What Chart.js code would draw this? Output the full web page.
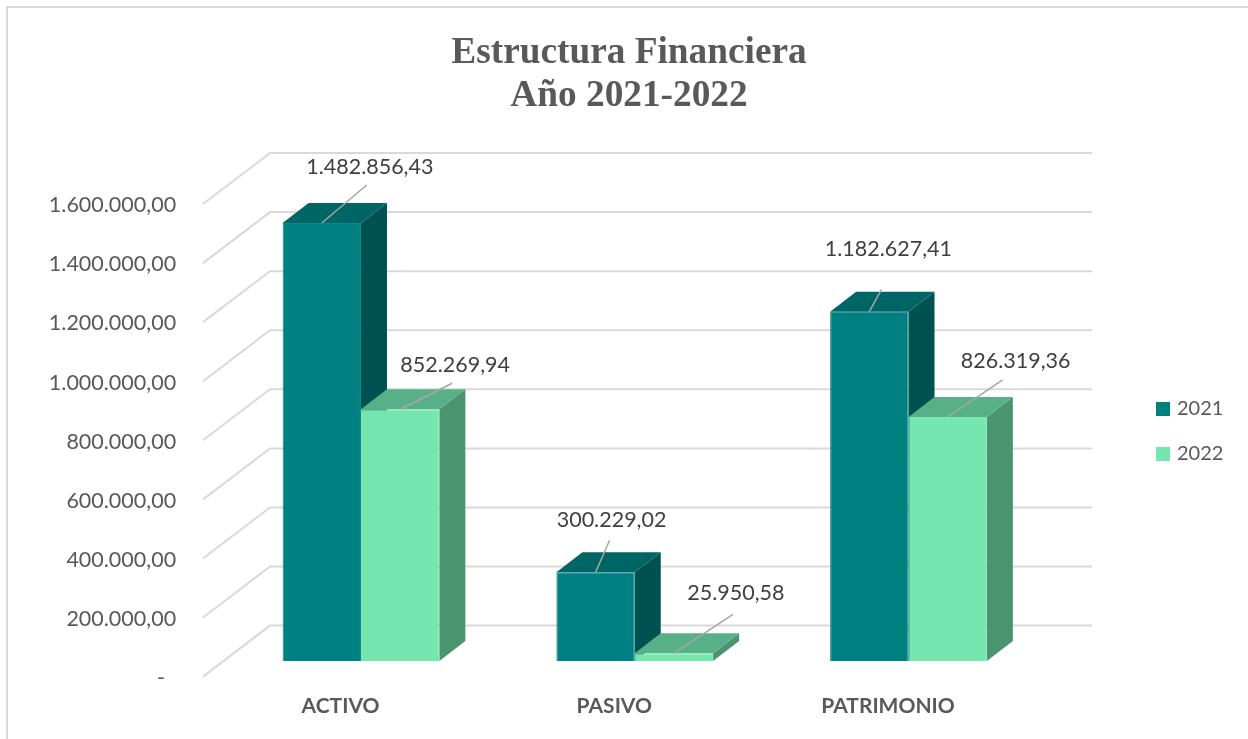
<!DOCTYPE html>
<html>
<head>
<meta charset="utf-8">
<style>html,body{margin:0;padding:0;background:#fff;overflow:hidden}canvas{display:block}</style>
<script src="https://cdn.jsdelivr.net/npm/chart.js@4/dist/chart.umd.min.js"></script>
</head>
<body>
<div style="width:1248px;height:739px;position:relative"><canvas id="c"></canvas></div>
<script>
const categories = ['ACTIVO', 'PASIVO', 'PATRIMONIO'];
const seriesNames = ['2021', '2022'];
const values2021 = [1482856.43, 300229.02, 1182627.41];
const values2022 = [852269.94, 25950.58, 826319.36];
const titleLines = ['Estructura Financiera', 'Año 2021-2022'];
const axisMax = 1600000;
const axisStep = 200000;

const frontColors = ['#008080', '#75E6B0'];
const edgeColors = ['#0C8787', '#78E8B3'];
const topColors = ['#006565', '#58B088'];
const sideColors = ['#005252', '#4A9570'];
// leader-line ends, relative to the bar's front-top centre: [series][category] = [dx, dy]
const leaderEnds = [[[45,-38],[14,-32],[12,-22]], [[52,-26],[59,-39],[55,-37]]];
// label centres, relative to the leader end
const labelGaps = [[[3,-18],[2,-20],[7,-41]], [[3,-18],[3,-21],[13,-19]]];

const DEPTH_X = 26, DEPTH_Y = 20;      // bar extrusion
const WALL_Y = 35.4;                   // back wall offset from the front plane
const SIDE_X = 67, SIDE_Y = 51;        // left wall run

function fmt(v){
  if (v === 0) return '-  ';
  const p = v.toFixed(2).split('.');
  return p[0].replace(/\B(?=(\d{3})+(?!\d))/g, '.') + ',' + p[1];
}

function poly(ctx, pts, color){
  ctx.beginPath();
  pts.forEach((p,i)=> i ? ctx.lineTo(p[0],p[1]) : ctx.moveTo(p[0],p[1]));
  ctx.closePath();
  ctx.fillStyle = color;
  ctx.fill();
}

const frame = {
  id:'frame',
  beforeLayout(chart){
    const l = chart.legend;
    if (!l._wrapped){
      l._wrapped = true;
      const f = l.fit;
      l.fit = function(){ f.call(this); this.width = 202.6; };
    }
  },
  afterLayout(chart){
    const l = chart.legend;
    const w = l.right - l.left;
    l.left = 1134; l.right = l.left + w;
    l.top += 62; l.bottom += 62;
    const t = chart.titleBlock;
    t.left += 5; t.right += 5;
  },
  beforeDraw(chart){
    const c = chart.ctx;
    c.save();
    c.fillStyle = '#fff';
    c.fillRect(0,0,chart.width,chart.height);
    c.strokeStyle = '#d9d9d9';
    c.lineWidth = 2;
    c.beginPath();
    c.moveTo(7,739); c.lineTo(7,7); c.lineTo(1248,7);
    c.stroke();
    c.restore();
  },
  beforeDatasetsDraw(chart){
    const c = chart.ctx, y = chart.scales.y;
    c.save();
    c.strokeStyle = '#d9d9d9';
    c.lineWidth = 2;
    c.beginPath();
    y.ticks.forEach(t=>{
      const py = y.getPixelForValue(t.value) - WALL_Y;
      c.moveTo(270 - SIDE_X, py + SIDE_Y);
      c.lineTo(270, py);
      c.lineTo(1092, py);
    });
    c.stroke();
    chart.data.datasets.forEach((ds,i)=>{
      chart.getDatasetMeta(i).data.forEach(b=>{
        const L = b.x - b.width/2, R = b.x + b.width/2, T = b.y, B = b.base;
        poly(c, [[R,T],[R+DEPTH_X,T-DEPTH_Y],[R+DEPTH_X,B-DEPTH_Y],[R,B]], sideColors[i]);
        poly(c, [[L,T],[L+DEPTH_X,T-DEPTH_Y],[R+DEPTH_X,T-DEPTH_Y],[R,T]], topColors[i]);
      });
    });
    c.restore();
  },
  afterDatasetsDraw(chart){
    const c = chart.ctx;
    c.save();
    c.font = '21.5px Lato';
    c.textAlign = 'center';
    c.textBaseline = 'middle';
    chart.data.datasets.forEach((ds,i)=>{
      chart.getDatasetMeta(i).data.forEach((b,j)=>{
        const e = leaderEnds[i][j], g = labelGaps[i][j];
        c.strokeStyle = '#a6a6a6';
        c.lineWidth = 1.5;
        c.beginPath();
        c.moveTo(b.x, b.y);
        c.lineTo(b.x + e[0], b.y + e[1]);
        c.stroke();
        c.fillStyle = '#404040';
        c.fillText(fmt(ds.data[j]), b.x + e[0] + g[0], b.y + e[1] + g[1]);
      });
    });
    c.restore();
  }
};

new Chart(document.getElementById('c'), {
  type:'bar',
  plugins:[frame],
  data:{
    labels:categories,
    datasets:[
      {label:seriesNames[0], data:values2021, backgroundColor:frontColors[0], borderColor:edgeColors[0], borderWidth:1},
      {label:seriesNames[1], data:values2022, backgroundColor:frontColors[1], borderColor:edgeColors[1], borderWidth:1}
    ]
  },
  options:{
    responsive:true,
    maintainAspectRatio:false,
    animation:false,
    layout:{padding:0},
    categoryPercentage:0.5725,
    barPercentage:1,
    plugins:{
      tooltip:{enabled:false},
      title:{
        display:true,
        text:titleLines,
        color:'#595959',
        font:{family:'"Liberation Serif"',size:37.3,weight:'bold',lineHeight:1.153},
        padding:{top:31.4,bottom:71}
      },
      legend:{
        position:'right',
        labels:{
          color:'#595959',
          font:{family:'Lato',size:20},
          boxWidth:8,boxHeight:8,
          padding:25,
          generateLabels(chart){
            return chart.data.datasets.map((d,i)=>({
              text:d.label, fillStyle:frontColors[i], strokeStyle:frontColors[i],
              lineWidth:6, datasetIndex:i, fontColor:'#595959'
            }));
          }
        }
      }
    },
    scales:{
      x:{
        grid:{display:false,drawTicks:false},
        border:{display:false},
        afterFit(s){s.height=78;},
        ticks:{color:'#595959',font:{family:'Lato',size:21,weight:'bold'},padding:32.4,labelOffset:-20.5,maxRotation:0,autoSkip:false}
      },
      y:{
        min:0,max:axisMax,
        grid:{display:false,drawTicks:false},
        border:{display:false},
        afterFit(s){s.width=224.1;},
        ticks:{
          stepSize:axisStep,color:'#595959',font:{family:'Lato',size:21.5},
          padding:48,labelOffset:17,autoSkip:false,
          callback:v=>fmt(v)
        }
      }
    }
  }
});
</script>
</body>
</html>
